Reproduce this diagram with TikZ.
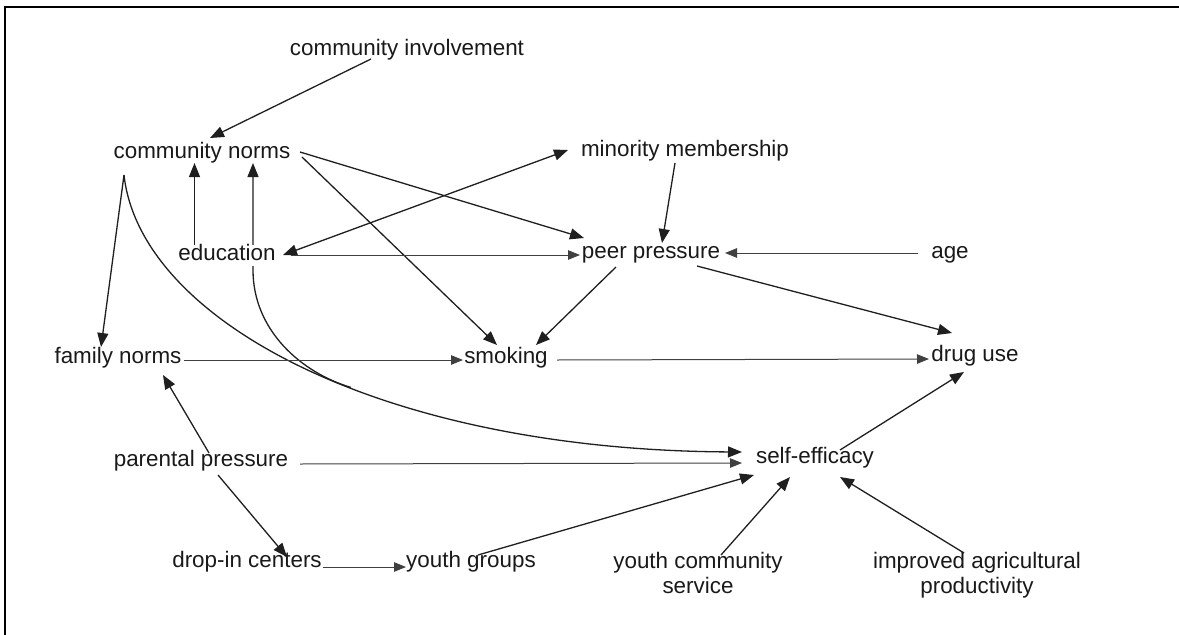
\documentclass[tikz,border=0pt]{standalone}
\usepackage{fontspec}
\setmainfont{Liberation Sans}
\usetikzlibrary{arrows.meta,backgrounds}
\begin{document}
\begin{tikzpicture}[x=1pt,y=-1pt,
  >={Triangle[length=14pt,width=11pt]},
  lbl/.style={inner sep=0pt,text height=16pt,text depth=5pt,
    font=\fontsize{22.4}{25.5}\selectfont,text=black!90},
  lbltwo/.style={inner sep=0pt,align=center,anchor=north,
    font=\fontsize{22.4}{25.5}\selectfont,text=black!90},
  conn/.style={line width=1.3pt,draw=black!88,->},
  thinconn/.style={line width=1pt,draw=black!75,-{Triangle[length=12pt,width=9.5pt]}},
  ]
\useasboundingbox (0,0) rectangle (1179,635);
\draw[line width=2.7pt] (5,636) -- (5,7) -- (1180,7);

\node[lbl] (ci) at (407,50) {community involvement};
\node[lbl] (cn) at (202,153) {community norms};
\node[lbl] (mm) at (685,151) {minority membership};
\node[lbl,fill=white] (edu) at (227,255) {education};
\node[lbl] (pp) at (651,253) {peer pressure};
\node[lbl] (age) at (950,253) {age};
\node[lbl] (fn) at (118,358) {family norms};
\node[lbl] (sm) at (506,358) {smoking};
\node[lbl] (du) at (975,356) {drug use};
\node[lbl] (par) at (201,461) {parental pressure};
\node[lbl] (se) at (815,458) {self-efficacy};
\node[lbl] (drop) at (247,562) {drop-in centers};
\node[lbl] (yg) at (471,562) {youth groups};
\node[lbltwo] (ycs) at (698,552) {youth community\\service};
\node[lbltwo] (iap) at (977,552) {improved agricultural\\productivity};

\begin{scope}[on background layer]
\draw[conn] ([shift={(-36,9)}]ci.center) -- ([shift={(8,-15)}]cn.center);
\draw[conn,line width=1pt] ([shift={(-32.5,-10)}]edu.center) -- ([shift={(-7.5,10)}]cn.center);
\draw[conn] ([shift={(-78,22)}]cn.center) -- ([shift={(-17,-11)}]fn.center);
\draw[conn] ([shift={(-78,22)}]cn.center) .. controls +(16,145) and +(-362,-2) .. coordinate[pos=0.57] (m) ([shift={(-73,-6)}]se.center);
\draw[conn] (m) .. controls +(-50,-15) and +(0,60) .. ([shift={(26,15)}]edu.center) -- ([shift={(51,10)}]cn.center);
\draw[conn] ([shift={(98,-1)}]cn.center) -- ([shift={(-67,-15)}]pp.center);
\draw[conn] ([shift={(100,4)}]cn.center) -- ([shift={(-9,-13)}]sm.center);
\draw[conn,<->] ([shift={(56,0)}]edu.center) -- ([shift={(-117,-1)}]mm.center);
\draw[thinconn] ([shift={(64,0)}]edu.center) -- ([shift={(-71,2)}]pp.center);
\draw[conn] ([shift={(-10,12)}]mm.center) -- ([shift={(11,-10)}]pp.center);
\draw[thinconn] ([shift={(-32,0)}]age.center) -- ([shift={(74,0)}]pp.center);
\draw[conn] ([shift={(46,13)}]pp.center) -- ([shift={(-23,-23)}]du.center);
\draw[conn] ([shift={(-35,14)}]pp.center) -- ([shift={(30,-13)}]sm.center);
\draw[thinconn] ([shift={(66,2)}]fn.center) -- ([shift={(-43,2)}]sm.center);
\draw[thinconn] ([shift={(51,2)}]sm.center) -- ([shift={(-46,3)}]du.center);
\draw[conn] ([shift={(25,-8)}]se.center) -- ([shift={(-11,16)}]du.center);
\draw[conn] ([shift={(8,-8)}]par.center) -- ([shift={(45,17)}]fn.center);
\draw[conn] ([shift={(17,14)}]par.center) -- ([shift={(40,-5)}]drop.center);
\draw[thinconn] ([shift={(99,3)}]par.center) -- ([shift={(-73,5)}]se.center);
\draw[thinconn] ([shift={(76,5)}]drop.center) -- ([shift={(-65,5)}]yg.center);
\draw[conn] ([shift={(7,-7)}]yg.center) -- ([shift={(-61,17)}]se.center);
\draw[conn] ([shift={(23,3)}]ycs.north) -- ([shift={(-25,19)}]se.center);
\draw[conn] ([shift={(-13,1)}]iap.north) -- ([shift={(25,19)}]se.center);
\end{scope}
\end{tikzpicture}
\end{document}
